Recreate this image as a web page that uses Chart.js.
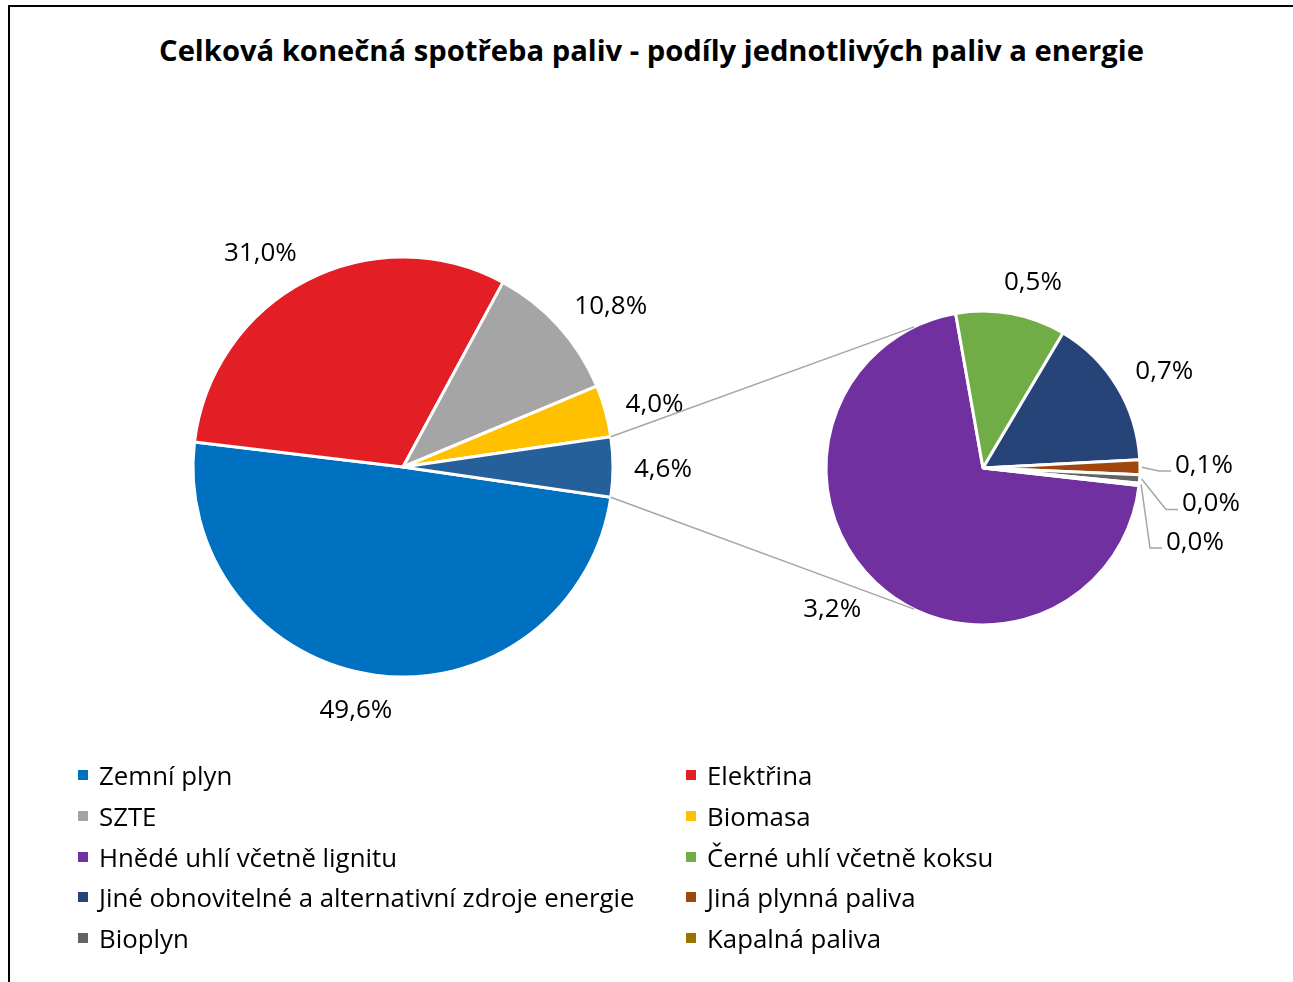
<!DOCTYPE html>
<html lang="cs">
<head>
<meta charset="utf-8">
<script src="https://cdn.jsdelivr.net/npm/chart.js@4.4.1/dist/chart.umd.min.js"></script>
<style>
  html, body { margin: 0; padding: 0; background: #fff; }
  body { width: 1293px; height: 982px; position: relative; overflow: hidden; font-family: "Open Sans", sans-serif; }
  #frame { position: absolute; left: 8px; top: 5px; width: 1300px; height: 1000px; border: 2px solid #000; box-sizing: border-box; }
  #title { position: absolute; left: 0; width: 1303px; top: 30px; text-align: center; font-weight: bold; font-size: 29.2px; color: #000; }
  canvas { position: absolute; left: 0; top: 0; }
  #legend { position: absolute; left: 78px; top: 755px; width: 1000px; display: grid; grid-template-columns: 608px 390px; row-gap: 0; }
  #legend .item { height: 40.7px; display: flex; align-items: center; font-size: 25.8px; color: #000; }
  #legend .box { width: 10px; height: 10px; margin-right: 11px; flex: none; }
</style>
</head>
<body>
<div id="frame"></div>
<div id="title">Celková konečná spotřeba paliv - podíly jednotlivých paliv a energie</div>
<canvas id="mainPie" width="1293" height="982"></canvas>
<canvas id="subPie" width="1293" height="982"></canvas>
<div id="legend"></div>
<script>
// hlavní koláč
const mainLabels = ['Zemní plyn', 'Elektřina', 'SZTE', 'Biomasa'];
const mainValues = [49.6, 31.0, 10.8, 4.0];
const mainColors = ['#0070C0', '#E31E24', '#A5A5A5', '#FFC000'];
const otherColor = '#26609A';

// druhý koláč (rozpad zbytku)
const subLabels = ['Hnědé uhlí včetně lignitu', 'Černé uhlí včetně koksu', 'Jiné obnovitelné a alternativní zdroje energie', 'Jiná plynná paliva', 'Bioplyn', 'Kapalná paliva'];
const subValues = [3.24, 0.52, 0.72, 0.07, 0.04, 0.01];
const subColors = ['#7030A0', '#70AD47', '#264478', '#9E480E', '#636363', '#997300'];

// pořadí v legendě (po řádcích, dva sloupce)
const legendLabels = ['Zemní plyn', 'Elektřina', 'SZTE', 'Biomasa', 'Hnědé uhlí včetně lignitu', 'Černé uhlí včetně koksu', 'Jiné obnovitelné a alternativní zdroje energie', 'Jiná plynná paliva', 'Bioplyn', 'Kapalná paliva'];

const otherValue = subValues.reduce((a, b) => a + b, 0);
const fmt = v => v.toFixed(1).replace('.', ',') + '%';
const labelFont = '26px "Open Sans", sans-serif';
const leaderColor = '#A6A6A6';

// popisky vně koláče
function drawOutsideLabels(chart, values, smallLimit) {
    const ctx = chart.ctx;
    const arcs = chart.getDatasetMeta(0).data;
    ctx.save();
    ctx.font = labelFont;
    ctx.fillStyle = '#000';
    ctx.textBaseline = 'middle';
    ctx.textAlign = 'center';
    let smallIdx = 0;
    arcs.forEach((arc, i) => {
        const v = values[i];
        const mid = (arc.startAngle + arc.endAngle) / 2;
        const r = arc.outerRadius;
        const txt = fmt(v);
        const w = ctx.measureText(txt).width;
        const h = 25;
        if (smallLimit && v < smallLimit) {
            // malé výseče: popisek s vodící čarou
            const sx = arc.x + Math.cos(mid) * r + 2;
            const sy = arc.y + Math.sin(mid) * r;
            const dx = [35, 42, 26][smallIdx] || 34;
            const ly = arc.y - 4 + smallIdx * 38.5;
            const lx = arc.x + r + dx;
            ctx.strokeStyle = leaderColor;
            ctx.lineWidth = 1.5;
            ctx.beginPath();
            ctx.moveTo(sx, sy);
            ctx.lineTo(lx - 16, ly + 7);
            ctx.lineTo(lx - 4, ly + 7);
            ctx.stroke();
            ctx.textAlign = 'left';
            ctx.fillText(txt, lx, ly + 1.5);
            ctx.textAlign = 'center';
            smallIdx++;
            return;
        }
        const px = arc.x + Math.cos(mid) * (r + 21);
        const py = arc.y + Math.sin(mid) * (r + 21);
        const fx = Math.max(-1, Math.min(1, 3.5 * Math.cos(mid)));
        const fy = Math.sin(mid);
        ctx.fillText(txt, px + fx * w / 2, py + fy * h / 2 + 2.5);
    });
    ctx.restore();
}

const mainLabelPlugin = {
    id: 'mainLabels',
    afterDraw(chart) { drawOutsideLabels(chart, mainValues.concat([otherValue]), 0); }
};

const subLabelPlugin = {
    id: 'subLabels',
    afterDraw(chart) {
        drawOutsideLabels(chart, subValues, 0.1);
        // spojnice mezi koláči
        const other = mainChart.getDatasetMeta(0).data[mainValues.length];
        const sub = chart.getDatasetMeta(0).data[0];
        const ctx = chart.ctx;
        const ang = 116 * Math.PI / 180;
        ctx.save();
        ctx.strokeStyle = leaderColor;
        ctx.lineWidth = 1.5;
        ctx.beginPath();
        ctx.moveTo(other.x + Math.cos(other.startAngle) * other.outerRadius, other.y + Math.sin(other.startAngle) * other.outerRadius);
        ctx.lineTo(sub.x + Math.cos(-ang) * sub.outerRadius, sub.y + Math.sin(-ang) * sub.outerRadius);
        ctx.moveTo(other.x + Math.cos(other.endAngle) * other.outerRadius, other.y + Math.sin(other.endAngle) * other.outerRadius);
        ctx.lineTo(sub.x + Math.cos(ang) * sub.outerRadius, sub.y + Math.sin(ang) * sub.outerRadius);
        ctx.stroke();
        ctx.restore();
    }
};

const mainChart = new Chart(document.getElementById('mainPie'), {
    type: 'pie',
    data: {
        labels: mainLabels.concat(['Ostatní']),
        datasets: [{
            data: mainValues.concat([otherValue]),
            backgroundColor: mainColors.concat([otherColor]),
            borderColor: '#fff',
            borderWidth: 3,
            radius: 210
        }]
    },
    options: {
        responsive: false,
        animation: false,
        rotation: 90 + otherValue / 100 * 180,
        layout: { padding: { left: 0, top: 0, right: 487, bottom: 48 } },
        plugins: { legend: { display: false }, tooltip: { enabled: false } }
    },
    plugins: [mainLabelPlugin]
});

const subTotal = subValues.reduce((a, b) => a + b, 0);
const smallShare = (subValues[3] + subValues[4] + subValues[5]) / subTotal;
const subChart = new Chart(document.getElementById('subPie'), {
    type: 'pie',
    data: {
        labels: subLabels,
        datasets: [{
            data: subValues,
            backgroundColor: subColors,
            borderColor: '#fff',
            borderWidth: 3,
            radius: 157
        }]
    },
    options: {
        responsive: false,
        animation: false,
        rotation: 87 + smallShare * 360,
        layout: { padding: { left: 673, top: 0, right: 0, bottom: 46 } },
        plugins: { legend: { display: false }, tooltip: { enabled: false } }
    },
    plugins: [subLabelPlugin]
});

// legenda
const allLabels = mainLabels.concat(subLabels);
const allColors = mainColors.concat(subColors);
const legendEl = document.getElementById('legend');
legendLabels.forEach(name => {
    const item = document.createElement('div');
    item.className = 'item';
    const box = document.createElement('span');
    box.className = 'box';
    box.style.background = allColors[allLabels.indexOf(name)];
    item.appendChild(box);
    item.appendChild(document.createTextNode(name));
    legendEl.appendChild(item);
});
</script>
</body>
</html>
